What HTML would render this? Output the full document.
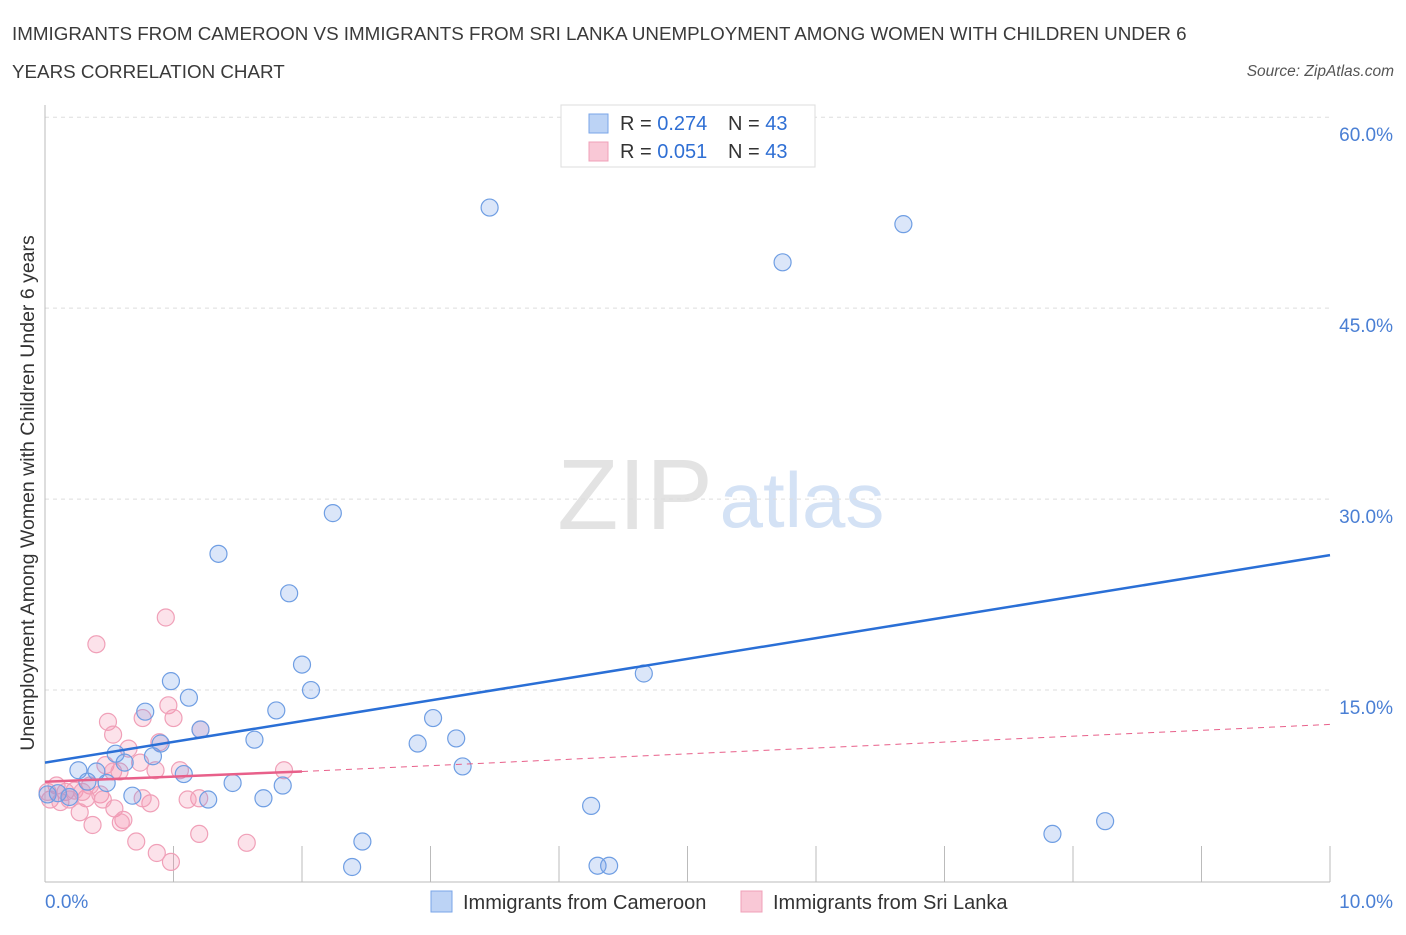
<!DOCTYPE html>
<html><head><meta charset="utf-8"><style>
body{margin:0;background:#fff;font-family:"Liberation Sans",sans-serif}
svg text{font-family:"Liberation Sans",sans-serif}
</style></head><body>
<svg id="c" width="1406" height="930">
<text x="12" y="40" font-size="18.8" fill="#3a3a3a">IMMIGRANTS FROM CAMEROON VS IMMIGRANTS FROM SRI LANKA UNEMPLOYMENT AMONG WOMEN WITH CHILDREN UNDER 6</text>
<text x="12" y="78" font-size="18.8" fill="#3a3a3a">YEARS CORRELATION CHART</text>
<text x="1394" y="76" font-size="15.5" font-style="italic" fill="#555" text-anchor="end">Source: ZipAtlas.com</text>
<text x="635" y="529" font-size="100" font-family="Liberation Serif" fill="#e3e3e3" text-anchor="middle">ZIP</text>
<text x="802" y="527" font-size="78" fill="#d4e2f5" text-anchor="middle">atlas</text>
<g id="grid"></g><g id="pts"></g><g id="lines"></g>
<text transform="translate(34,493) rotate(-90)" font-size="19.5" fill="#333" text-anchor="middle">Unemployment Among Women with Children Under 6 years</text>
<text x="45" y="908" font-size="19" fill="#4a7fd4">0.0%</text>
<text x="1393" y="908" font-size="19" fill="#4a7fd4" text-anchor="end">10.0%</text>
<g>
<rect x="561" y="105" width="254" height="62" fill="#fff" stroke="#ddd"/>
<rect x="589" y="114" width="19" height="19" fill="#bcd3f5" stroke="#7aa6e8"/>
<rect x="589" y="142" width="19" height="19" fill="#f9c8d6" stroke="#f0a0b8"/>
<text x="620" y="130" font-size="20" fill="#333">R = <tspan fill="#2f6fd4">0.274</tspan></text>
<text x="728" y="130" font-size="20" fill="#333">N = <tspan fill="#2f6fd4">43</tspan></text>
<text x="620" y="158" font-size="20" fill="#333">R = <tspan fill="#2f6fd4">0.051</tspan></text>
<text x="728" y="158" font-size="20" fill="#333">N = <tspan fill="#2f6fd4">43</tspan></text>
</g>
<g>
<rect x="431" y="891" width="21" height="21" fill="#bcd3f5" stroke="#7aa6e8"/>
<text x="463" y="909" font-size="20" fill="#333">Immigrants from Cameroon</text>
<rect x="741" y="891" width="21" height="21" fill="#f9c8d6" stroke="#f0a0b8"/>
<text x="773" y="909" font-size="20" fill="#333">Immigrants from Sri Lanka</text>
</g>
</svg>
<script>
const yTicks=[15,30,45,60];
const yTickLabels=["15.0%","30.0%","45.0%","60.0%"];
const xTicks=[0,1,2,3,4,5,6,7,8,9,10];
const blueX=[3.46,6.68,5.74,2.24,1.35,1.90,4.66,2.00,0.98,2.07,1.12,0.78,1.80,1.21,3.02,0.90,1.63,3.20,2.90,0.84,0.62,0.55,0.26,0.40,0.33,0.48,0.68,1.27,1.08,1.85,1.70,1.46,3.25,4.25,7.84,8.25,2.47,2.39,4.30,4.39,0.02,0.10,0.19];
const blueY=[52.9,51.6,48.6,28.9,25.7,22.6,16.3,17.0,15.7,15.0,14.4,13.3,13.4,11.9,12.8,10.8,11.1,11.2,10.8,9.8,9.3,10.0,8.7,8.6,7.8,7.7,6.7,6.4,8.4,7.5,6.5,7.7,9.0,5.9,3.7,4.7,3.1,1.1,1.2,1.2,6.8,6.9,6.6];
const pinkX=[0.94,0.40,0.49,0.53,0.76,0.96,1.00,1.21,0.65,0.47,0.53,1.05,0.58,0.74,1.86,1.20,1.11,0.82,0.76,0.54,0.32,0.43,0.27,0.37,0.61,0.59,0.71,0.87,0.98,1.57,1.20,0.89,0.09,0.16,0.23,0.35,0.04,0.12,0.19,0.29,0.45,0.86,0.02];
const pinkY=[20.7,18.6,12.5,11.5,12.8,13.8,12.8,11.9,10.4,9.1,8.6,8.7,8.6,9.3,8.7,6.5,6.4,6.1,6.5,5.7,6.5,6.8,5.4,4.4,4.8,4.6,3.1,2.2,1.5,3.0,3.7,10.9,7.5,7.0,7.1,7.5,6.4,6.2,6.4,7.0,6.4,8.7,7.0];
const blueTrend=[[0,9.3],[10,25.6]];
const pinkTrend=[[0,7.8],[2,8.6],[10,12.3]];
const X=v=>45+v*128.5, Y=v=>881-v*12.73;
const NS="http://www.w3.org/2000/svg";
function mk(t,a,p){const e=document.createElementNS(NS,t);for(const k in a)e.setAttribute(k,a[k]);p.appendChild(e);return e;}
const g=document.getElementById('grid');
yTicks.forEach((v,i)=>{
 const l=mk('line',{x1:45,x2:1330,y1:Y(v),y2:Y(v),stroke:'#ddd','stroke-dasharray':'4,4'},g);
 
 
 const t=mk('text',{x:1393,y:Y(v)+24,'font-size':19,fill:'#4a7fd4','text-anchor':'end'},g);t.textContent=yTickLabels[i];
 
 
});
mk('line',{x1:45,x2:45,y1:105,y2:882,stroke:'#bbb'},g);
mk('line',{x1:45,x2:1330,y1:882,y2:882,stroke:'#bbb'},g);
xTicks.forEach(v=>{const l=mk('line',{x1:X(v),x2:X(v),y1:846,y2:882,stroke:'#bbb'},g);
 
 });
const p=document.getElementById('pts');
pinkX.forEach((x,i)=>{const c=mk('circle',{cx:X(x),cy:Y(pinkY[i]),r:8.5,fill:'rgba(244,140,170,0.25)',stroke:'#f0a0b8','stroke-width':1.2},p);
 
 });
blueX.forEach((x,i)=>{const c=mk('circle',{cx:X(x),cy:Y(blueY[i]),r:8.5,fill:'rgba(110,155,230,0.25)',stroke:'#6f9ee3','stroke-width':1.2},p);
 
 });
const L=document.getElementById('lines');
const bl=mk('line',{x1:X(blueTrend[0][0]),y1:Y(blueTrend[0][1]),x2:X(blueTrend[1][0]),y2:Y(blueTrend[1][1]),stroke:'#2a6fd6','stroke-width':2.5},L);


const pl=mk('line',{x1:X(pinkTrend[0][0]),y1:Y(pinkTrend[0][1]),x2:X(pinkTrend[1][0]),y2:Y(pinkTrend[1][1]),stroke:'#e8608a','stroke-width':2.5},L);


const pd=mk('line',{x1:X(pinkTrend[1][0]),y1:Y(pinkTrend[1][1]),x2:X(pinkTrend[2][0]),y2:Y(pinkTrend[2][1]),stroke:'#e8608a','stroke-width':1,'stroke-dasharray':'6,5'},L);


</script>
</body></html>
